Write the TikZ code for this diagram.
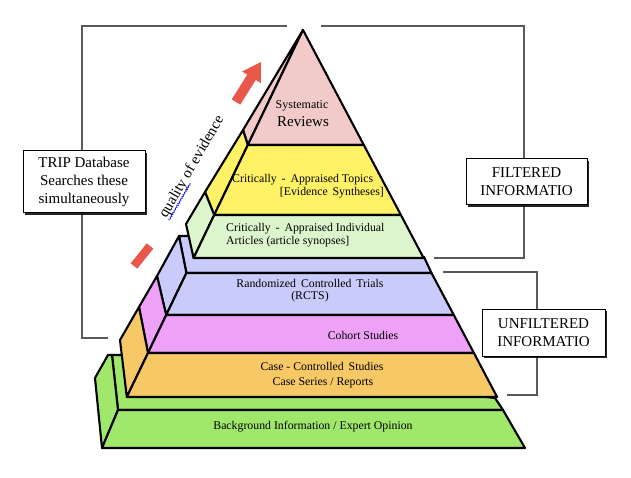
\documentclass[tikz,border=0pt]{standalone}
\usepackage{fontspec}
\setmainfont{Liberation Serif}
\usetikzlibrary{decorations.pathmorphing,shadows}
\definecolor{cpink}{HTML}{F2CACA}
\definecolor{cyellow}{HTML}{FFF266}
\definecolor{clgreen}{HTML}{DDF5CC}
\definecolor{cblue}{HTML}{C9CBFA}
\definecolor{cmag}{HTML}{EDA2F7}
\definecolor{corange}{HTML}{F6C866}
\definecolor{cgreen}{HTML}{A0E86C}
\definecolor{cred}{HTML}{E8574A}
\definecolor{cbr}{HTML}{5A5A5A}
\begin{document}
\begin{tikzpicture}[x=1pt,y=-1pt,
  face/.style={draw=black, line width=2.1pt, line join=round},
  brk/.style={draw=cbr, line width=1.4pt},
  lbl/.style={font=\fontsize{11.8}{13.5}\selectfont, inner sep=0pt},
  boxt/.style={draw=black, fill=white, line width=1pt, font=\fontsize{15}{18}\selectfont,
    align=center, inner sep=0pt,
    drop shadow={shadow xshift=2.2pt, shadow yshift=-2.2pt, fill=black, opacity=0.85}},
]
\useasboundingbox[fill=white] (0,0) rectangle (631,478);

% brackets
\coordinate (lt) at (287,26);
\coordinate (lc) at (82,26);
\coordinate (lb) at (82,338);
\coordinate (le) at (108,338);
\draw[brk] (lt) -- (lc) -- (lb) -- (le);
\coordinate (ft) at (321,26);
\coordinate (fc) at (524,26);
\coordinate (fb) at (524,258);
\coordinate (fe) at (434,258);
\draw[brk] (ft) -- (fc) -- (fb) -- (fe);
\coordinate (ut) at (443,272);
\coordinate (uc) at (537,272);
\coordinate (ub) at (537,395);
\coordinate (ue) at (507,395);
\draw[brk] (ut) -- (uc) -- (ub) -- (ue);

% boxes
\node[boxt, minimum width=122pt, minimum height=62pt] (trip) at (84,182)
  {TRIP Database\\Searches these\\simultaneously};
\node[boxt, minimum width=121pt, minimum height=46pt] (filt) at (526.5,182)
  {FILTERED\\INFORMATIO};
\node[boxt, minimum width=123pt, minimum height=47pt] (unfilt) at (543.5,332.5)
  {UNFILTERED\\INFORMATIO};

% bottom slab
\draw[face, fill=cgreen] (112,355) -- (140,355) -- (495,398) -- (503,410) -- (118,410) -- cycle;
\draw[face, fill=cgreen] (112,355) -- (108,355) -- (95,378) -- (102,448) -- (118,410) -- cycle;
\draw[face, fill=cgreen] (118,410) -- (503,410) -- (525,448) -- (102,448) -- cycle;

% middle group
\draw[face, fill=cblue] (179,236) -- (215,236) -- (424,257) -- (431.5,273) -- (186.4,273) -- cycle;
\draw[face, fill=cblue] (186.4,273) -- (166.2,315) -- (157,276) -- (179,236) -- cycle;
\draw[face, fill=cmag] (166.2,315) -- (148,353) -- (139,307) -- (157,276) -- cycle;
\draw[face, fill=corange] (148,353) -- (126.8,397) -- (120,340) -- (139,307) -- cycle;
\draw[face, fill=cblue] (186.4,273) -- (431.5,273) -- (453.8,315) -- (166.2,315) -- cycle;
\draw[face, fill=cmag] (166.2,315) -- (453.8,315) -- (473.9,353) -- (148,353) -- cycle;
\draw[face, fill=corange] (148,353) -- (473.9,353) -- (497.1,397) -- (126.8,397) -- cycle;

% upper group
\draw[face, fill=cpink] (303,30) -- (247.8,145) -- (243,130) -- cycle;
\draw[face, fill=cyellow] (247.8,145) -- (214.2,215) -- (205,192) -- (243,130) -- cycle;
\draw[face, fill=clgreen] (214.2,215) -- (193.6,258) -- (186,224) -- (205,192) -- cycle;
\draw[face, fill=cpink] (303,30) -- (363.8,145) -- (247.8,145) -- cycle;
\draw[face, fill=cyellow] (247.8,145) -- (363.8,145) -- (400.9,215) -- (214.2,215) -- cycle;
\draw[face, fill=clgreen] (214.2,215) -- (400.9,215) -- (423.6,258) -- (193.6,258) -- cycle;

% red arrow pieces
\coordinate (ra) at (134,266);
\coordinate (rb) at (150,246);
\draw[cred, line width=8.5pt] (ra) -- (rb);
\fill[cred] (240.25,104.64) -- (255.75,79.94) -- (260.84,83.11) -- (261,62) -- (242.16,71.49) -- (247.25,74.66) -- (231.75,99.36) -- cycle;

% quality of evidence
\node[font=\fontsize{15}{18}\selectfont, inner sep=0pt, rotate=60] (qe) at (192,167) {quality of evidence};
\begin{scope}[shift={(qe.base west)}, rotate=60]
  \draw[blue, line width=0.6pt, decorate, decoration={snake, amplitude=0.7pt, segment length=2.6pt}]
    (0pt,-3pt) -- (43pt,-3pt);
\end{scope}

% labels
\node[font=\fontsize{12}{14}\selectfont, inner sep=0pt] (sr1) at (302,106) {Systematic};
\node[font=\fontsize{15}{16}\selectfont, inner sep=0pt] (sr2) at (303,122) {Reviews};
\node[lbl, anchor=west] (ct1) at (232,180) {Critically \,- \,Appraised Topics};
\node[lbl, anchor=east] (ct2) at (384,193) {[Evidence \,Syntheses]};
\node[lbl, anchor=west] (ci1) at (226,229) {Critically \,- \,Appraised Individual};
\node[lbl, anchor=west] (ci2) at (226,242) {Articles (article synopses]};
\node[lbl] (rc1) at (310,283) {Randomized \,Controlled \,Trials};
\node[lbl] (rc2) at (310,297) {(RCTS)};
\node[lbl] (co) at (363,335) {Cohort Studies};
\node[lbl] (cc1) at (322,366) {Case - Controlled \,Studies};
\node[lbl] (cc2) at (323,383) {Case Series / Reports};
\node[lbl] (bg) at (313,427) {Background Information / Expert Opinion};
\end{tikzpicture}
\end{document}
